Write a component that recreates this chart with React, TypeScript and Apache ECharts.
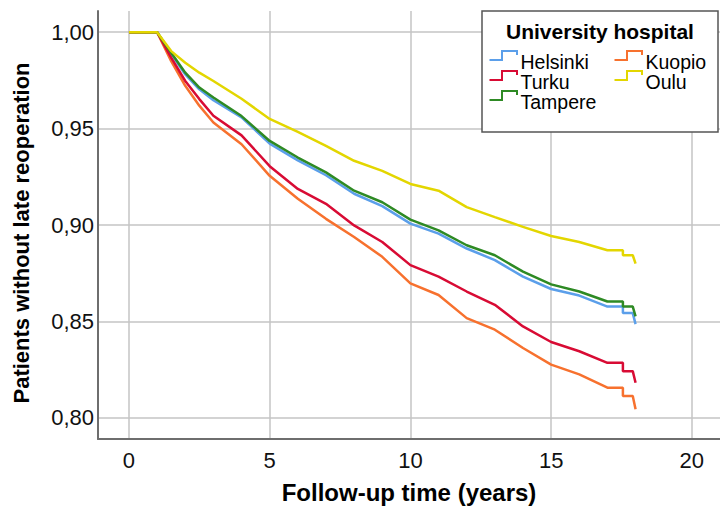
import React, { useEffect, useRef } from "react";
import * as echarts from "echarts";

const years = [0, 1, 1.5, 2, 2.5, 3, 4, 5, 6, 7, 8, 9, 10, 11, 12, 13, 14, 15, 16, 17, 17.55, 17.55, 17.9, 18];
const helsinki = [1, 1, 0.9888, 0.9781, 0.9704, 0.9647, 0.9558, 0.9422, 0.9335, 0.9258, 0.9162, 0.9098, 0.9007, 0.8955, 0.8878, 0.8818, 0.8732, 0.8668, 0.8634, 0.8577, 0.8577, 0.8543, 0.8543, 0.8486];
const turku = [1, 1, 0.9868, 0.9747, 0.9653, 0.9567, 0.9465, 0.9305, 0.9187, 0.911, 0.8998, 0.8912, 0.8792, 0.8732, 0.8655, 0.8586, 0.8474, 0.8393, 0.8345, 0.8285, 0.8285, 0.8242, 0.8242, 0.8182];
const tampere = [1, 1, 0.9893, 0.979, 0.9713, 0.9661, 0.9565, 0.9436, 0.935, 0.9273, 0.9178, 0.9118, 0.9028, 0.8972, 0.8895, 0.8843, 0.8758, 0.8692, 0.8655, 0.8603, 0.8603, 0.8577, 0.8577, 0.8526];
const kuopio = [1, 1, 0.985, 0.9722, 0.9619, 0.9532, 0.9419, 0.9255, 0.9136, 0.9032, 0.8938, 0.8835, 0.8697, 0.8637, 0.8517, 0.8457, 0.8362, 0.8276, 0.8225, 0.8156, 0.8156, 0.8113, 0.8113, 0.8044];
const oulu = [1, 1, 0.9902, 0.9842, 0.979, 0.9747, 0.9655, 0.955, 0.9483, 0.941, 0.9333, 0.9281, 0.9213, 0.9178, 0.9093, 0.9041, 0.899, 0.8943, 0.8912, 0.8869, 0.8869, 0.8843, 0.8843, 0.88];

const xTicks = [0, 5, 10, 15, 20];
const yTicks = [0.8, 0.85, 0.9, 0.95, 1.0];

const seriesDefs = [
  { name: "Helsinki", data: helsinki, color: "#5B9FEA" },
  { name: "Kuopio", data: kuopio, color: "#F7712E" },
  { name: "Turku", data: turku, color: "#D80B34" },
  { name: "Tampere", data: tampere, color: "#2E8A24" },
  { name: "Oulu", data: oulu, color: "#E3D600" },
];

const legendLayout = [
  { name: "Helsinki", col: 0, row: 0 },
  { name: "Turku", col: 0, row: 1 },
  { name: "Tampere", col: 0, row: 2 },
  { name: "Kuopio", col: 1, row: 0 },
  { name: "Oulu", col: 1, row: 1 },
];

const FONT = "'Liberation Sans', Arial, sans-serif";

export default function App() {
  const ref = useRef<HTMLDivElement>(null);
  useEffect(() => {
    if (!ref.current) return;
    const chart = echarts.init(ref.current, null, { renderer: "svg" });

    const legendEls: any[] = [
      {
        type: "text",
        x: 21,
        y: 233,
        rotation: Math.PI / 2,
        style: {
          text: "Patients without late reoperation",
          x: 0,
          y: 0,
          textAlign: "center",
          textVerticalAlign: "middle",
          fontFamily: FONT,
          fontWeight: "bold",
          fontSize: 22,
          fill: "#000",
        },
        z: 50,
      },
      {
        type: "rect",
        shape: { x: 482, y: 11, width: 236, height: 121 },
        style: { fill: "#fff", stroke: "#555", lineWidth: 1.5 },
        z: 100,
      },
      {
        type: "text",
        style: {
          text: "University hospital",
          x: 600,
          y: 31,
          textAlign: "center",
          textVerticalAlign: "middle",
          fontFamily: FONT,
          fontWeight: "bold",
          fontSize: 21,
          fill: "#000",
        },
        z: 101,
      },
    ];
    legendLayout.forEach((it) => {
      const def = seriesDefs.find((s) => s.name === it.name)!;
      const x0 = it.col === 0 ? 489.5 : 614.5;
      const yLow = 60 + it.row * 20;
      const yHigh = yLow - 9;
      legendEls.push({
        type: "polyline",
        shape: {
          points: [
            [x0, yLow],
            [x0 + 12.5, yLow],
            [x0 + 12.5, yHigh],
            [x0 + 27.5, yHigh],
            [x0 + 27.5, yHigh + 4],
          ],
        },
        style: { stroke: def.color, lineWidth: 2, fill: null },
        z: 101,
      });
      legendEls.push({
        type: "text",
        style: {
          text: it.name,
          x: x0 + 31,
          y: yLow + 1.5,
          textAlign: "left",
          textVerticalAlign: "middle",
          fontFamily: FONT,
          fontSize: 19.5,
          fill: "#000",
        },
        z: 101,
      });
    });

    chart.setOption({
      animation: false,
      backgroundColor: "#fff",
      grid: { left: 98, top: 11, right: 0, bottom: 63, containLabel: false },
      xAxis: {
        type: "value",
        min: -1.1,
        max: 21,
        name: "Follow-up time (years)",
        nameLocation: "middle",
        nameGap: 41,
        nameTextStyle: { fontFamily: FONT, fontWeight: "bold", fontSize: 24, color: "#000" },
        axisLine: { show: true, onZero: false, lineStyle: { color: "#6e6e6e", width: 2 } },
        axisTick: { show: false, customValues: xTicks },
        axisLabel: {
          customValues: xTicks,
          fontFamily: FONT,
          fontSize: 22,
          color: "#111",
          margin: 10,
        },
        splitLine: { show: true, lineStyle: { color: "#c4c4c4", width: 1.5 } },
      },
      yAxis: {
        type: "value",
        min: 0.789,
        max: 1.011,
        axisLine: { show: true, onZero: false, lineStyle: { color: "#6e6e6e", width: 2 } },
        axisTick: { show: false, customValues: yTicks },
        axisLabel: {
          customValues: yTicks,
          fontFamily: FONT,
          fontSize: 22,
          color: "#111",
          margin: 4,
          formatter: (v: number) => v.toFixed(2).replace(".", ","),
        },
        splitLine: { show: true, lineStyle: { color: "#c4c4c4", width: 1.5 } },
      },
      series: seriesDefs.map((s) => ({
        name: s.name,
        type: "line",
        data: years.map((y, i) => [y, s.data[i]]),
        showSymbol: false,
        symbol: "none",
        lineStyle: { color: s.color, width: 2.5 },
        itemStyle: { color: s.color },
      })),
      graphic: legendEls,
    });
    return () => chart.dispose();
  }, []);
  return <div ref={ref} style={{ width: 720, height: 509, position: "absolute", left: 0, top: 0 }} />;
}
